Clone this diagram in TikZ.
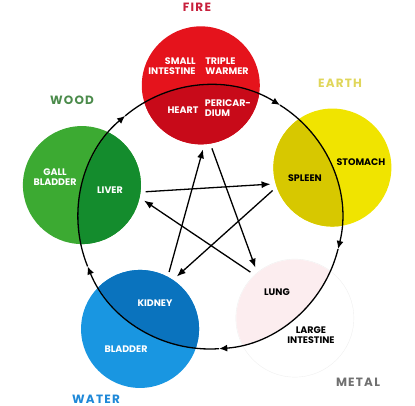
\documentclass[tikz,border=0pt]{standalone}
\usepackage{fontspec}
\newfontfamily\labfont{Poppins}
\newfontfamily\elfont{Poppins}[LetterSpace=10]
\usetikzlibrary{arrows.meta}

\definecolor{firelight}{HTML}{E5131C}
\definecolor{firedark}{HTML}{C80A19}
\definecolor{firetext}{HTML}{C8203C}
\definecolor{woodlight}{HTML}{3CAA32}
\definecolor{wooddark}{HTML}{148C2D}
\definecolor{woodtext}{HTML}{4B8B4B}
\definecolor{earthlight}{HTML}{F0E400}
\definecolor{earthdark}{HTML}{D7C800}
\definecolor{earthtext}{HTML}{E0D65A}
\definecolor{waterlight}{HTML}{1996E1}
\definecolor{waterdark}{HTML}{0A73BE}
\definecolor{watertext}{HTML}{1E88D8}
\definecolor{metaldark}{HTML}{FCEDEF}
\definecolor{metaltext}{HTML}{707070}

\begin{document}
\begin{tikzpicture}[x=1pt, y=1pt,
  element/.style={circle, minimum size=118pt, inner sep=0pt, outer sep=5pt},
  organ/.style={font=\labfont\bfseries\fontsize{9.5}{10.5}\selectfont, align=center, inner sep=0pt},
  elname/.style={font=\elfont\bfseries\fontsize{12}{12}\selectfont, inner sep=0pt},
  ring/.style={line width=1.3pt, -{Latex[length=8pt,width=7pt]}},
  ko/.style={line width=1.3pt, -{Latex[length=9pt,width=7pt]}}]
\useasboundingbox (0,0) rectangle (415,-406);

% the five elements round the ring
\begin{scope}[shift={(210,-217)}]
\node[element, fill=firelight] (fire) at (94:132) {};
\node[element, fill=woodlight] (wood) at (166:132) {};
\node[element, fill=waterlight] (water) at (238:132) {};
\node[element, fill=white, draw=gray!12] (metal) at (310:132) {};
\node[element, fill=earthlight] (earth) at (22:132) {};

% darker part inside the ring
\begin{scope}
\clip (0,0) circle (132);
\fill[firedark] (fire.center) circle (59);
\fill[wooddark] (wood.center) circle (59);
\fill[waterdark] (water.center) circle (59);
\fill[metaldark] (metal.center) circle (58.5);
\fill[earthdark] (earth.center) circle (59);
\end{scope}

% generating cycle
\foreach \a in {130,58,-14,-86,-158}
  \draw[ring] (\a+72:132) arc[start angle=\a+72, end angle=\a, radius=132];
\end{scope}

% controlling cycle
\draw[ko] (wood.-6) -- (earth.195);
\draw[ko] (earth.201) -- (water.55);
\draw[ko] (water.63) -- (fire.-88);
\draw[ko] (fire.-80) -- (metal.128);
\draw[ko] (metal.134) -- (wood.-14);

% element names
\node[elname, text=firetext] (firename) at (197,-7) {FIRE};
\node[elname, text=woodtext] (woodname) at (72,-100) {WOOD};
\node[elname, text=earthtext] (earthname) at (340,-83) {EARTH};
\node[elname, text=metaltext] (metalname) at (358,-382) {METAL};
\node[elname, text=watertext] (watername) at (96,-399) {WATER};

% organs
\node[organ, text=white, align=right] (smallint) at (172,-66) {SMALL\\INTESTINE};
\node[organ, text=white, align=left] (triple) at (227,-66) {TRIPLE\\WARMER};
\node[organ, text=white] (heart) at (183,-110) {HEART};
\node[organ, text=white, align=left] (peri) at (228,-108) {PERICAR-\\DIUM};
\node[organ, text=white] (gall) at (55,-177) {GALL\\BLADDER};
\node[organ, text=white] (liver) at (110,-190) {LIVER};
\node[organ] (stomach) at (361,-162) {STOMACH};
\node[organ] (spleen) at (305,-178) {SPLEEN};
\node[organ, text=white] (kidney) at (155,-303) {KIDNEY};
\node[organ, text=white] (bladder) at (126,-349) {BLADDER};
\node[organ] (lung) at (277,-292) {LUNG};
\node[organ] (largeint) at (311,-335) {LARGE\\INTESTINE};
\end{tikzpicture}
\end{document}
